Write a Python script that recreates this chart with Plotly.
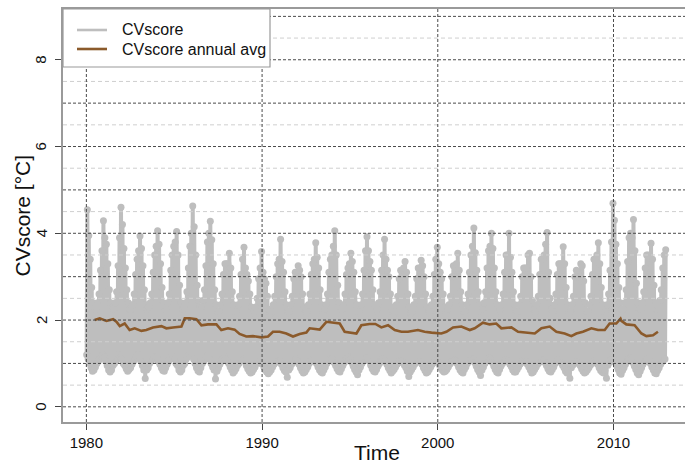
import plotly.graph_objects as go

# ---------------------------------------------------------------
# Data
# ---------------------------------------------------------------
years = list(range(1980, 2013))

# monthly upper envelope of the daily CVscore (Jan..Dec), one row per year
cv_high = [
    [4.54, 3.95, 3.40, 2.75, 2.40, 2.25, 2.30, 2.40, 2.60, 3.15, 3.60, 4.29],  # 1980
    [3.90, 3.75, 3.30, 2.70, 2.40, 2.30, 2.25, 2.40, 2.65, 3.25, 3.90, 4.60],  # 1981
    [4.20, 3.65, 3.20, 2.70, 2.40, 2.25, 2.25, 2.35, 2.60, 3.05, 3.40, 3.60],  # 1982
    [3.94, 3.65, 3.25, 2.70, 2.35, 2.25, 2.30, 2.40, 2.60, 3.10, 3.50, 3.70],  # 1983
    [4.06, 3.75, 3.30, 2.75, 2.40, 2.30, 2.25, 2.40, 2.60, 3.15, 3.50, 3.70],  # 1984
    [3.80, 4.04, 3.50, 2.80, 2.40, 2.25, 2.30, 2.40, 2.65, 3.20, 3.70, 4.00],  # 1985
    [4.63, 4.15, 3.50, 2.80, 2.45, 2.30, 2.30, 2.45, 2.70, 3.25, 3.80, 4.00],  # 1986
    [4.28, 3.85, 3.30, 2.70, 2.35, 2.20, 2.20, 2.35, 2.60, 3.05, 3.30, 3.30],  # 1987
    [3.30, 3.54, 3.20, 2.65, 2.35, 2.20, 2.20, 2.35, 2.55, 3.05, 3.40, 3.68],  # 1988
    [3.20, 3.05, 2.90, 2.60, 2.30, 2.15, 2.20, 2.30, 2.50, 2.95, 3.20, 3.58],  # 1989
    [3.10, 2.95, 2.85, 2.55, 2.25, 2.15, 2.20, 2.35, 2.55, 3.00, 3.30, 3.40],  # 1990
    [3.86, 3.35, 3.10, 2.65, 2.35, 2.20, 2.20, 2.35, 2.55, 2.95, 3.10, 3.10],  # 1991
    [3.25, 3.15, 3.00, 2.60, 2.30, 2.20, 2.20, 2.35, 2.60, 3.05, 3.30, 3.40],  # 1992
    [3.78, 3.45, 3.20, 2.70, 2.35, 2.20, 2.25, 2.35, 2.60, 3.10, 3.40, 3.50],  # 1993
    [3.70, 4.06, 3.50, 2.80, 2.40, 2.25, 2.25, 2.35, 2.60, 3.05, 3.20, 3.30],  # 1994
    [3.54, 3.35, 3.10, 2.65, 2.35, 2.20, 2.20, 2.35, 2.60, 3.15, 3.60, 3.92],  # 1995
    [3.60, 3.35, 3.15, 2.70, 2.35, 2.20, 2.25, 2.40, 2.65, 3.15, 3.50, 3.86],  # 1996
    [3.40, 3.15, 3.00, 2.60, 2.30, 2.15, 2.20, 2.35, 2.55, 2.95, 3.15, 3.15],  # 1997
    [3.20, 3.35, 3.10, 2.60, 2.30, 2.15, 2.20, 2.35, 2.55, 2.95, 3.20, 3.20],  # 1998
    [3.38, 3.25, 3.00, 2.60, 2.30, 2.20, 2.20, 2.35, 2.55, 3.05, 3.40, 3.68],  # 1999
    [3.30, 3.10, 2.95, 2.60, 2.30, 2.20, 2.25, 2.35, 2.55, 3.00, 3.25, 3.25],  # 2000
    [3.30, 3.54, 3.15, 2.65, 2.35, 2.20, 2.20, 2.35, 2.60, 3.10, 3.50, 3.70],  # 2001
    [4.12, 3.55, 3.15, 2.65, 2.35, 2.20, 2.25, 2.40, 2.65, 3.20, 3.60, 3.70],  # 2002
    [4.00, 3.65, 3.20, 2.65, 2.35, 2.20, 2.25, 2.35, 2.60, 3.10, 3.50, 3.50],  # 2003
    [4.00, 3.45, 3.10, 2.65, 2.35, 2.20, 2.20, 2.35, 2.55, 3.00, 3.20, 3.20],  # 2004
    [3.20, 3.50, 3.54, 3.00, 2.45, 2.25, 2.20, 2.35, 2.55, 3.05, 3.40, 3.40],  # 2005
    [3.50, 3.75, 4.02, 3.10, 2.50, 2.25, 2.20, 2.35, 2.60, 3.05, 3.30, 3.30],  # 2006
    [3.30, 3.69, 3.30, 2.75, 2.35, 2.20, 2.20, 2.35, 2.55, 3.00, 3.15, 3.10],  # 2007
    [3.00, 3.30, 3.25, 2.90, 2.40, 2.20, 2.20, 2.35, 2.55, 3.05, 3.40, 3.40],  # 2008
    [3.50, 3.78, 3.30, 2.75, 2.35, 2.20, 2.25, 2.35, 2.60, 3.15, 3.80, 4.69],  # 2009
    [4.30, 3.75, 3.30, 2.75, 2.40, 2.25, 2.25, 2.40, 2.70, 3.35, 3.90, 4.00],  # 2010
    [3.90, 4.32, 3.60, 2.85, 2.40, 2.25, 2.25, 2.40, 2.65, 3.20, 3.50, 3.50],  # 2011
    [3.40, 3.77, 3.40, 2.80, 2.40, 2.25, 2.30, 2.45, 2.70, 3.20, 3.50, 3.62],  # 2012
]

# monthly lower envelope of the daily CVscore (Jan..Dec)
cv_low = [
    [1.20, 1.10, 1.00, 0.90, 0.82, 0.85, 0.92, 1.00, 1.05, 1.10, 1.15, 1.20],  # 1980
    [1.15, 1.05, 0.95, 0.85, 0.80, 0.85, 0.95, 1.00, 1.05, 1.10, 1.20, 1.15],  # 1981
    [1.10, 1.00, 0.95, 0.88, 0.82, 0.86, 0.90, 0.98, 1.05, 1.10, 1.15, 1.20],  # 1982
    [1.15, 1.05, 0.95, 0.85, 0.65, 0.85, 0.90, 1.00, 1.05, 1.10, 1.15, 1.10],  # 1983
    [1.15, 1.05, 0.98, 0.90, 0.84, 0.82, 0.90, 0.98, 1.05, 1.10, 1.20, 1.15],  # 1984
    [1.10, 1.00, 0.95, 0.85, 0.80, 0.85, 0.95, 1.00, 1.10, 1.15, 1.20, 1.20],  # 1985
    [1.20, 1.10, 1.00, 0.90, 0.83, 0.80, 0.90, 1.00, 1.05, 1.10, 1.15, 1.20],  # 1986
    [1.10, 1.00, 0.92, 0.85, 0.64, 0.82, 0.90, 0.98, 1.05, 1.10, 1.15, 1.10],  # 1987
    [1.05, 1.00, 0.92, 0.85, 0.78, 0.82, 0.88, 0.95, 1.00, 1.05, 1.10, 1.10],  # 1988
    [1.05, 0.95, 0.88, 0.82, 0.78, 0.80, 0.86, 0.92, 1.00, 1.05, 1.05, 1.00],  # 1989
    [1.00, 0.92, 0.85, 0.80, 0.76, 0.80, 0.85, 0.92, 0.98, 1.02, 1.05, 1.05],  # 1990
    [1.05, 0.98, 0.90, 0.84, 0.80, 0.68, 0.85, 0.90, 0.98, 1.02, 1.08, 1.10],  # 1991
    [1.05, 0.98, 0.90, 0.83, 0.78, 0.80, 0.86, 0.92, 1.00, 1.05, 1.08, 1.05],  # 1992
    [1.10, 1.00, 0.92, 0.85, 0.80, 0.78, 0.85, 0.92, 1.00, 1.05, 1.10, 1.10],  # 1993
    [1.10, 1.02, 0.95, 0.88, 0.82, 0.80, 0.88, 0.95, 1.02, 1.08, 1.12, 1.15],  # 1994
    [1.10, 1.02, 0.94, 0.86, 0.80, 0.74, 0.85, 0.92, 1.00, 1.05, 1.10, 1.12],  # 1995
    [1.12, 1.05, 0.96, 0.88, 0.82, 0.80, 0.86, 0.94, 1.00, 1.06, 1.10, 1.08],  # 1996
    [1.05, 0.98, 0.90, 0.84, 0.78, 0.82, 0.86, 0.92, 0.98, 1.02, 1.06, 1.05],  # 1997
    [1.02, 0.96, 0.90, 0.82, 0.70, 0.80, 0.86, 0.92, 0.98, 1.02, 1.05, 1.04],  # 1998
    [1.04, 0.98, 0.90, 0.84, 0.78, 0.80, 0.86, 0.92, 0.98, 1.02, 1.06, 1.05],  # 1999
    [1.04, 0.96, 0.90, 0.84, 0.80, 0.82, 0.86, 0.92, 0.98, 1.02, 1.06, 1.08],  # 2000
    [1.05, 1.00, 0.92, 0.85, 0.80, 0.78, 0.86, 0.92, 1.00, 1.05, 1.10, 1.10],  # 2001
    [1.10, 1.02, 0.94, 0.86, 0.80, 0.72, 0.85, 0.92, 1.00, 1.05, 1.10, 1.12],  # 2002
    [1.10, 1.02, 0.94, 0.86, 0.80, 0.78, 0.86, 0.94, 1.00, 1.05, 1.08, 1.06],  # 2003
    [1.05, 0.98, 0.92, 0.85, 0.80, 0.80, 0.86, 0.92, 0.98, 1.02, 1.06, 1.05],  # 2004
    [1.04, 0.98, 0.92, 0.85, 0.78, 0.80, 0.86, 0.92, 0.98, 1.02, 1.06, 1.08],  # 2005
    [1.08, 1.02, 0.95, 0.88, 0.82, 0.80, 0.86, 0.92, 1.00, 1.04, 1.08, 1.05],  # 2006
    [1.02, 0.96, 0.90, 0.82, 0.78, 0.80, 0.66, 0.90, 0.96, 1.00, 1.04, 1.02],  # 2007
    [1.00, 0.95, 0.88, 0.82, 0.78, 0.80, 0.85, 0.90, 0.96, 1.00, 1.04, 1.05],  # 2008
    [1.04, 0.98, 0.90, 0.84, 0.80, 0.78, 0.84, 0.66, 0.96, 1.02, 1.08, 1.10],  # 2009
    [1.10, 1.02, 0.94, 0.86, 0.78, 0.75, 0.84, 0.90, 0.98, 1.04, 1.10, 1.12],  # 2010
    [1.10, 1.02, 0.94, 0.86, 0.78, 0.74, 0.82, 0.90, 0.98, 1.04, 1.08, 1.10],  # 2011
    [1.08, 1.00, 0.92, 0.85, 0.78, 0.76, 0.84, 0.90, 0.98, 1.04, 1.08, 1.10],  # 2012
]

# 365-day running mean of CVscore (decimal year, value)
avg_time = [
    1980.47, 1980.76, 1981.14, 1981.52, 1981.71, 1981.90, 1982.18, 1982.46,
    1982.75, 1983.13, 1983.41, 1983.79, 1984.27, 1984.55, 1984.93, 1985.41,
    1985.60, 1985.88, 1986.26, 1986.55, 1986.92, 1987.40, 1987.68, 1988.06,
    1988.44, 1988.72, 1989.10, 1989.48, 1989.96, 1990.34, 1990.62, 1991.00,
    1991.38, 1991.76, 1992.14, 1992.52, 1992.71, 1993.28, 1993.66, 1994.03,
    1994.42, 1994.70, 1995.08, 1995.37, 1995.65, 1996.12, 1996.45, 1996.79,
    1997.17, 1997.55, 1997.93, 1998.30, 1998.87, 1999.25, 1999.64, 2000.20,
    2000.49, 2000.87, 2001.34, 2001.82, 2002.10, 2002.57, 2002.95, 2003.33,
    2003.62, 2004.19, 2004.57, 2005.13, 2005.52, 2005.90, 2006.37, 2006.75,
    2007.22, 2007.60, 2007.89, 2008.26, 2008.74, 2009.12, 2009.50, 2009.78,
    2010.16, 2010.40, 2010.45, 2010.73, 2011.20, 2011.59, 2011.87, 2012.25,
    2012.53,
]
avg_value = [
    2.00, 2.04, 1.98, 2.02, 1.96, 1.86, 1.92, 1.77,
    1.81, 1.75, 1.77, 1.83, 1.86, 1.81, 1.83, 1.85,
    2.04, 2.04, 2.02, 1.88, 1.90, 1.90, 1.77, 1.81,
    1.78, 1.68, 1.62, 1.63, 1.60, 1.62, 1.73, 1.73,
    1.69, 1.62, 1.68, 1.71, 1.81, 1.78, 1.96, 1.94,
    1.92, 1.73, 1.71, 1.69, 1.88, 1.91, 1.91, 1.83,
    1.88, 1.77, 1.73, 1.73, 1.77, 1.73, 1.71, 1.69,
    1.73, 1.83, 1.85, 1.77, 1.81, 1.94, 1.90, 1.92,
    1.81, 1.83, 1.73, 1.71, 1.69, 1.81, 1.85, 1.73,
    1.69, 1.63, 1.69, 1.73, 1.81, 1.77, 1.77, 1.92,
    1.92, 2.03, 1.98, 1.90, 1.88, 1.69, 1.63, 1.65,
    1.73,
]

x_ticks = [1980, 1990, 2000, 2010]
y_ticks = [0, 2, 4, 6, 8]
y_grid_major = [0, 1, 2, 3, 4, 5, 6, 7, 8, 9]
y_grid_minor = [0.5, 1.5, 2.5, 3.5, 4.5, 5.5, 6.5, 7.5, 8.5]

# ---------------------------------------------------------------
# Daily series as alternating low/high samples inside each month
# ---------------------------------------------------------------
cv_t, cv_v = [], []
for yi, yr in enumerate(years):
    for m in range(12):
        cv_t.append(yr + (m + 0.2) / 12.0)
        cv_v.append(cv_low[yi][m])
        cv_t.append(yr + (m + 0.65) / 12.0)
        cv_v.append(cv_high[yi][m])

GRAY = "#bebebe"
BROWN = "#8b5a2b"
FONT = "Liberation Sans, Arial, Helvetica, sans-serif"

# plot-area geometry in pixels (used to place paper-referenced decorations)
PL, PR, PT, PB = 63, 685, 9, 422
PW, PH = PR - PL, PB - PT


def px_x(px):
    return (px - PL) / PW


def px_y(py):
    return (PB - py) / PH


fig = go.Figure()
fig.add_trace(go.Scatter(
    x=cv_t, y=cv_v, mode="lines+markers", name="CVscore",
    line=dict(color=GRAY, width=4),
    marker=dict(color=GRAY, size=7),
    showlegend=False, hoverinfo="skip",
))
fig.add_trace(go.Scatter(
    x=avg_time, y=avg_value, mode="lines", name="CVscore annual avg",
    line=dict(color=BROWN, width=2.6),
    showlegend=False,
))

# dashed grid, drawn over the point cloud
shapes = []
for v in y_grid_minor:
    shapes.append(dict(type="line", xref="paper", yref="y", x0=0, x1=1, y0=v, y1=v,
                       line=dict(color="#cfcfcf", width=1, dash="4px,3px"), layer="above"))
for v in y_grid_major:
    shapes.append(dict(type="line", xref="paper", yref="y", x0=0, x1=1, y0=v, y1=v,
                       line=dict(color="#4a4a4a", width=1, dash="3px,2px"), layer="above"))
for v in x_ticks:
    shapes.append(dict(type="line", xref="x", yref="paper", x0=v, x1=v, y0=0, y1=1,
                       line=dict(color="#4a4a4a", width=1, dash="3px,2px"), layer="above"))

# legend box
shapes.append(dict(type="rect", xref="paper", yref="paper", x0=0, x1=px_x(270),
                   y0=px_y(67), y1=1, fillcolor="white",
                   line=dict(color="#9a9a9a", width=1.2), layer="above"))
legend_rows = [("CVscore", GRAY, px_y(30)),
               ("CVscore annual avg", BROWN, px_y(49))]
annotations = []
for label, col, yy in legend_rows:
    shapes.append(dict(type="line", xref="paper", yref="paper",
                       x0=px_x(77), x1=px_x(107), y0=yy, y1=yy,
                       line=dict(color=col, width=2.6), layer="above"))
    annotations.append(dict(text=label, xref="paper", yref="paper",
                            x=px_x(120), y=yy, xanchor="left", yanchor="middle",
                            showarrow=False, font=dict(family=FONT, size=16, color="#111")))

# y tick labels, written parallel to the axis
for v in y_ticks:
    annotations.append(dict(text=str(v), xref="paper", yref="y", x=px_x(41), y=v,
                            textangle=-90, xanchor="center", yanchor="middle",
                            showarrow=False, font=dict(family=FONT, size=15, color="#111")))

# axis titles
annotations.append(dict(text="Time", xref="paper", yref="paper",
                        x=px_x(377), y=px_y(452),
                        xanchor="center", yanchor="middle", showarrow=False,
                        font=dict(family=FONT, size=21, color="#111")))
annotations.append(dict(text="CVscore [°C]", xref="paper", yref="paper",
                        x=px_x(22), y=0.5, textangle=-90,
                        xanchor="center", yanchor="middle", showarrow=False,
                        font=dict(family=FONT, size=21, color="#111")))

fig.update_layout(
    width=685, height=466,
    margin=dict(l=PL, r=685 - PR, t=PT, b=466 - PB),
    paper_bgcolor="white", plot_bgcolor="white",
    font=dict(family=FONT, size=15, color="#111"),
    shapes=shapes, annotations=annotations,
    showlegend=False,
)
fig.update_xaxes(
    range=[1978.67, 2014.07], tickvals=x_ticks, ticks="outside", ticklen=6,
    tickcolor="#444", tickfont=dict(size=15), showgrid=False, zeroline=False,
    showline=True, linecolor="#9a9a9a", linewidth=1.5, mirror=True,
)
fig.update_yaxes(
    range=[-0.35, 9.17], tickvals=y_ticks, ticks="outside", ticklen=6,
    tickcolor="#444", showticklabels=False,
    showgrid=False, zeroline=False, showline=True, linecolor="#9a9a9a",
    linewidth=1.5, mirror=False,
)

fig.write_html("out.html")
